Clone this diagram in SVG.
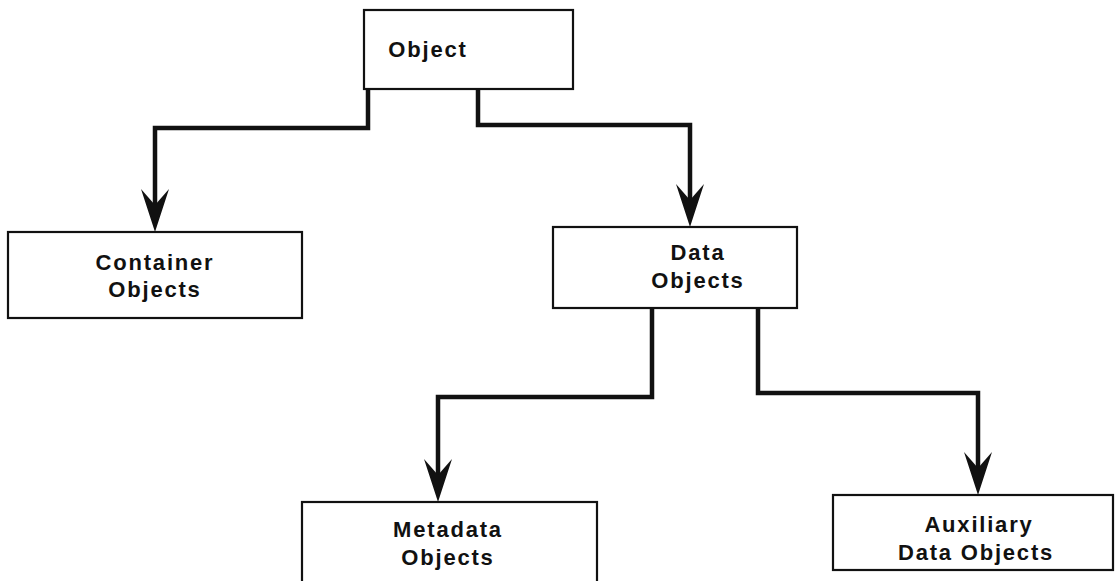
<svg xmlns="http://www.w3.org/2000/svg" width="1115" height="581" viewBox="0 0 1115 581">
<style>
.box{fill:#fff;stroke:#111;stroke-width:2.2}
.lbl{font-family:"Liberation Sans",Arial,sans-serif;font-weight:bold;font-size:22px;letter-spacing:1.8px;fill:#111;text-anchor:middle}
.wire{fill:none;stroke:#111;stroke-width:4.5;stroke-linejoin:miter}
</style>
<defs>
<path id="ah" d="M0,0 L-14,-43 L0,-27 L14,-43 Z" fill="#111"/>
</defs>
<rect width="1115" height="581" fill="#fff"/>
<g id="connectors">
<path class="wire" d="M368,89 V128 H155 V210"/>
<use href="#ah" x="155" y="232"/>
<path class="wire" d="M478,89 V125 H690 V205"/>
<use href="#ah" x="690" y="227"/>
<path class="wire" d="M652,308 V397 H438 V480"/>
<use href="#ah" x="438" y="502"/>
<path class="wire" d="M758,308 V393 H978 V473"/>
<use href="#ah" x="978" y="495"/>
</g>
<g id="object">
<rect class="box" x="364" y="10" width="209" height="79"/>
<text class="lbl" x="428" y="57">Object</text>
</g>
<g id="container">
<rect class="box" x="8" y="232" width="294" height="86"/>
<text class="lbl" x="155" y="270">Container</text>
<text class="lbl" x="155" y="297">Objects</text>
</g>
<g id="data">
<rect class="box" x="553" y="227" width="244" height="81"/>
<text class="lbl" x="698" y="260">Data</text>
<text class="lbl" x="698" y="288">Objects</text>
</g>
<g id="metadata">
<rect class="box" x="302" y="502" width="295" height="90"/>
<text class="lbl" x="448" y="537">Metadata</text>
<text class="lbl" x="448" y="565">Objects</text>
</g>
<g id="auxiliary">
<rect class="box" x="833" y="495" width="280" height="75"/>
<text class="lbl" x="979" y="532">Auxiliary</text>
<text class="lbl" x="976" y="560">Data Objects</text>
</g>
</svg>
